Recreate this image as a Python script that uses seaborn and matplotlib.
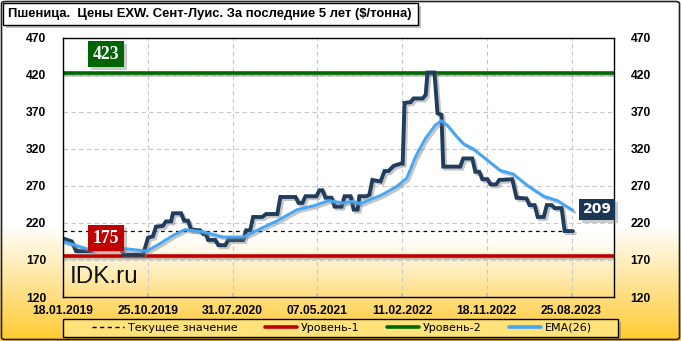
import numpy as np
import pandas as pd
import matplotlib
matplotlib.use("Agg")
import matplotlib.pyplot as plt
import matplotlib.patheffects as pe
from matplotlib.patches import Rectangle, FancyBboxPatch
from matplotlib.lines import Line2D
import seaborn as sns

# ---------------- data ----------------
price_dates = ["2019-01-18","2019-02-16","2019-03-02","2019-04-23","2019-05-03","2019-07-25","2019-08-07",
               "2019-10-09","2019-10-26","2019-11-11","2019-11-21","2019-12-14","2019-12-24","2020-01-10",
               "2020-01-16","2020-02-12","2020-02-22","2020-03-06","2020-03-16","2020-04-15","2020-04-25",
               "2020-05-05","2020-05-11","2020-06-04","2020-06-14","2020-07-07","2020-07-17","2020-09-04",
               "2020-09-14","2020-09-27","2020-10-07","2020-11-06","2020-11-19","2020-12-26","2021-01-05",
               "2021-02-24","2021-03-06","2021-03-19","2021-03-29","2021-05-04","2021-05-14","2021-05-24",
               "2021-06-03","2021-06-23","2021-07-03","2021-07-26","2021-08-05","2021-08-25","2021-09-04",
               "2021-09-17","2021-09-23","2021-10-16","2021-10-26","2021-11-05","2021-12-02","2021-12-15",
               "2021-12-28","2022-01-14","2022-02-06","2022-02-13","2022-02-19","2022-03-11","2022-03-21",
               "2022-04-20","2022-04-30","2022-05-06","2022-05-29","2022-06-08","2022-06-21","2022-06-27",
               "2022-08-22","2022-09-01","2022-10-01","2022-10-11","2022-10-24","2022-11-03","2022-11-20",
               "2022-11-30","2022-12-19","2022-12-29","2023-02-10","2023-02-24","2023-03-29","2023-04-08",
               "2023-04-25","2023-05-05","2023-05-25","2023-06-04","2023-06-20","2023-06-30","2023-07-23",
               "2023-08-02","2023-08-29"]
price_values = [199, 195, 182, 182, 187, 187, 177,
                177, 200, 202, 215, 216, 222, 222,
                233, 233, 223, 223, 211, 210, 205,
                205, 197, 197, 190, 190, 197, 197,
                210, 210, 228, 228, 232, 232, 255,
                255, 247, 247, 256, 256, 264, 264,
                254, 254, 242, 242, 256, 256, 238,
                238, 256, 256, 258, 278, 276, 290,
                290, 297, 300, 300, 382, 383, 388,
                388, 393, 423, 423, 368, 366, 296,
                296, 307, 307, 289, 289, 279, 279,
                272, 272, 278, 279, 254, 253, 244,
                244, 228, 228, 244, 244, 240, 240,
                209, 209]

ema_dates = ["2019-01-18","2019-04-07","2019-08-17","2019-10-22","2019-12-04","2020-01-16","2020-02-25",
             "2020-04-25","2020-06-30","2020-09-04","2020-10-30","2020-12-26","2021-03-02","2021-04-24",
             "2021-06-13","2021-08-01","2021-08-31","2021-09-27","2021-10-20","2021-12-02","2022-01-20",
             "2022-02-26","2022-03-27","2022-04-29","2022-06-01","2022-06-20","2022-07-10","2022-08-05",
             "2022-09-01","2022-10-04","2022-11-19","2023-01-01","2023-02-13","2023-03-31","2023-05-25",
             "2023-07-10","2023-08-29"]
ema_values = [195, 185, 185, 182, 192, 203, 211,
              208, 201, 201, 212, 223, 238, 243,
              250, 247, 249, 246, 250, 257, 268,
              280, 309, 334, 352, 358, 352, 339,
              327, 320, 305, 291, 286, 271, 256,
              250, 237]

level_1 = 175
level_2 = 423
current_value = 209

y_ticks = [120, 170, 220, 270, 320, 370, 420, 470]
x_tick_labels = ["18.01.2019", "25.10.2019", "31.07.2020", "07.05.2021",
                 "11.02.2022", "18.11.2022", "25.08.2023"]

title = "Пшеница.  Цены EXW. Сент-Луис. За последние 5 лет ($/тонна)"
legend_labels = ["Текущее значение", "Уровень-1", "Уровень-2", "EMA(26)"]

# ---------------- style ----------------
sns.set_theme(style="white")
plt.rcParams["font.family"] = ["DejaVu Sans"]

W, H = 681, 341
fig = plt.figure(figsize=(W / 100, H / 100), dpi=100)
fig.patch.set_facecolor("white")

# figure background gradient (white -> golden at bottom)
bg = fig.add_axes([0, 0, 1, 1], zorder=-10)
ypix = np.arange(H)
t = np.clip((ypix - 225) / (H - 225), 0, 1)
top_c = np.array([1.0, 1.0, 1.0])
bot_c = np.array([1.0, 0.79, 0.18])
grad = top_c[None, :] * (1 - t[:, None]) + bot_c[None, :] * t[:, None]
bg.imshow(grad[:, None, :], aspect="auto", extent=[0, 1, 0, 1], origin="upper")
bg.set_xlim(0, 1); bg.set_ylim(0, 1)
bg.axis("off")

# main axes
ax = fig.add_axes([63 / W, 1 - 297 / H, 551 / W, 259.3 / H])
ax.set_facecolor("white")

# in-axes gradient at the bottom
gy = np.linspace(0, 1, 200)  # 0 bottom .. 1 top
tt = np.clip((0.24 - gy) / 0.24, 0, 1) ** 1.2
bot2 = np.array([1.0, 0.87, 0.50])
grad2 = top_c[None, :] * (1 - tt[:, None]) + bot2[None, :] * tt[:, None]
ax.imshow(grad2[::-1][:, None, :], aspect="auto", extent=[0, 1, 0, 1],
          transform=ax.transAxes, zorder=0, origin="upper")

df_price = pd.DataFrame({"date": pd.to_datetime(price_dates), "value": price_values})
df_ema = pd.DataFrame({"date": pd.to_datetime(ema_dates), "value": ema_values})

shadow = [pe.SimpleLineShadow(offset=(1.5, -1.5), shadow_color="#808080", alpha=0.45), pe.Normal()]

# grid
ax.grid(True, which="major", color="#C8C8C8", linestyle=(0, (4, 3)), linewidth=0.8, zorder=1)
ax.set_axisbelow(True)

# levels
ax.axhline(level_2, color="#006600", linewidth=2.6, zorder=3, path_effects=shadow)
ax.axhline(level_1, color="#C00000", linewidth=2.6, zorder=3, path_effects=shadow)

# current value dashed line
df_cur = pd.DataFrame({"date": [df_price["date"].iloc[0], df_price["date"].iloc[-1]],
                       "value": [current_value, current_value]})
sns.lineplot(data=df_cur, x="date", y="value", ax=ax, color="black", linewidth=0.9,
             linestyle=(0, (3, 3)), zorder=4)

# price line
sns.lineplot(data=df_price, x="date", y="value", ax=ax, color="#213D5E", linewidth=2.8,
             zorder=5, path_effects=shadow, solid_joinstyle="miter")
# EMA line
sns.lineplot(data=df_ema, x="date", y="value", ax=ax, color="#45A6F5", linewidth=2.1,
             zorder=6, path_effects=shadow)

# axes limits / ticks
ax.set_xlim(pd.Timestamp("2019-01-18"), pd.Timestamp("2024-01-12"))
ax.set_ylim(120, 470)
ax.set_yticks(y_ticks)
xt = pd.to_datetime(x_tick_labels, format="%d.%m.%Y")
ax.set_xticks(xt)
ax.set_xticklabels(x_tick_labels)
ax.set_xlabel(""); ax.set_ylabel("")

ax.tick_params(axis="y", which="both", left=False, right=False, labelleft=True, labelright=True,
               length=0, pad=12)
ax.tick_params(axis="x", which="both", bottom=True, direction="in", length=3, color="#BBBBBB",
               pad=6)
for tk in ax.xaxis.get_major_ticks() + ax.yaxis.get_major_ticks():
    for lab in (tk.label1, tk.label2):
        lab.set_fontfamily("Liberation Sans"); lab.set_fontweight("bold")
        lab.set_fontsize(8.7); lab.set_color("black")

for sp in ax.spines.values():
    sp.set_visible(True); sp.set_color("black"); sp.set_linewidth(1.0)
    sp.set_zorder(10)

# value boxes
box_texts = []
def value_box(xf, yf, text, color, fam, size):
    tx = ax.text(xf, yf, text, transform=ax.transAxes, ha="center", va="center", color="white",
                 fontsize=size, fontweight="bold", family=fam, zorder=12,
                 bbox=dict(boxstyle="square,pad=0.25", facecolor=color, edgecolor="none"))
    box_texts.append(tx)

value_box(0.078, 0.937, f"{level_2}", "#006400", "Liberation Serif", 12.8)
value_box(0.078, 0.2275, f"{level_1}", "#C00000", "Liberation Serif", 12.8)
value_box(0.969, 0.338, f"{current_value}", "#1B3555", "DejaVu Sans", 10)

ax.text(0.013, 0.054, "IDK.ru", transform=ax.transAxes, ha="left", va="baseline",
        fontsize=17.5, family="Liberation Sans", color="#111111", zorder=12)

# title box
ft = fig.transFigure
fig.patches.append(Rectangle((6 / W, 1 - 28 / H), 415 / W, 22 / H, transform=ft,
                             facecolor="#9A9A9A", edgecolor="none", alpha=0.6, zorder=0))
fig.patches.append(Rectangle((3 / W, 1 - 25 / H), 415 / W, 22 / H, transform=ft,
                             facecolor="white", edgecolor="black", linewidth=1, zorder=1))
fig.text(8 / W, 1 - 14.5 / H, title, ha="left", va="center", fontsize=9.35,
         fontweight="bold", family="Liberation Sans", color="black", zorder=3)

# legend box
fig.patches.append(Rectangle((66 / W, 1 - 340 / H), 555 / W, 18 / H, transform=ft,
                             facecolor="#8A7A40", edgecolor="none", alpha=0.45, zorder=0))
fig.patches.append(Rectangle((63 / W, 1 - 337 / H), 555 / W, 18 / H, transform=ft,
                             facecolor="#FFE27A", edgecolor="black", linewidth=1, zorder=1))
handles = [Line2D([], [], color="black", linestyle=(0, (3, 2.5)), linewidth=1.0),
           Line2D([], [], color="#C00000", linewidth=2.6),
           Line2D([], [], color="#006600", linewidth=2.6),
           Line2D([], [], color="#45A6F5", linewidth=2.6)]
leg = fig.legend(handles, legend_labels, loc="center", bbox_to_anchor=(342 / W, 1 - 328 / H),
                 ncol=4, frameon=False, fontsize=8.0, handlelength=2.9, handletextpad=0.3,
                 columnspacing=2.5, borderpad=0.0)
for txt in leg.get_texts():
    txt.set_color("black")

# soft shadows behind the value boxes (patches in the axes, beneath the box texts)
fig.canvas.draw()
inv = ax.transAxes.inverted()
for tx in box_texts:
    bb = tx.get_bbox_patch().get_window_extent()
    (ax0, ay0), (ax1, ay1) = inv.transform([[bb.x0 + 3, bb.y0 - 3], [bb.x1 + 3, bb.y1 - 3]])
    ax.add_patch(Rectangle((ax0, ay0), ax1 - ax0, ay1 - ay0, transform=ax.transAxes,
                           facecolor="#8C8C8C", edgecolor="none", alpha=0.45, zorder=11,
                           clip_on=False))

# outer border
fig.patches.append(FancyBboxPatch((1.5 / W, 1.5 / H), 678 / W, 338 / H, transform=ft,
                                  boxstyle="round,pad=0,rounding_size=0.006",
                                  facecolor="none", edgecolor="#222222", linewidth=1.2, zorder=5))

fig.savefig("out.png", dpi=100)
